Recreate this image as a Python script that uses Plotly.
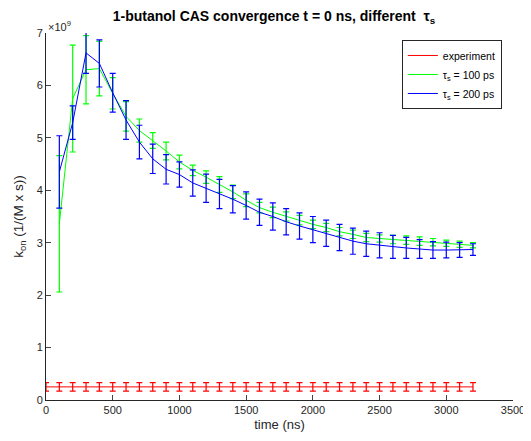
import plotly.graph_objects as go

# time points (ns)
t_exp = [0, 100, 200, 300, 400, 500, 600, 700, 800, 900, 1000, 1100, 1200, 1300, 1400, 1500,
         1600, 1700, 1800, 1900, 2000, 2100, 2200, 2300, 2400, 2500, 2600, 2700, 2800, 2900,
         3000, 3100, 3200]
t_sim = t_exp[1:]

# experiment (units of 1e9 1/(M s))
exp_val = [0.25] * len(t_exp)
exp_err = [0.08] * len(t_exp)

# tau_s = 100 ps
g_val = [3.36, 5.75, 6.30, 6.32, 5.85, 5.41, 5.14, 4.95, 4.75, 4.54, 4.38, 4.25, 4.11, 3.97,
         3.81, 3.67, 3.58, 3.50, 3.43, 3.35, 3.29, 3.21, 3.16, 3.10, 3.08, 3.06, 3.05, 3.03,
         3.01, 2.99, 2.97, 2.95]
g_err = [1.30, 1.02, 0.65, 0.52, 0.30, 0.28, 0.22, 0.15, 0.17, 0.13, 0.10, 0.12, 0.15, 0.13,
         0.12, 0.10, 0.10, 0.09, 0.09, 0.08, 0.08, 0.08, 0.08, 0.08, 0.07, 0.08, 0.08, 0.08,
         0.07, 0.06, 0.06, 0.05]

# tau_s = 200 ps
b_val = [4.35, 5.29, 6.62, 6.42, 5.86, 5.34, 4.92, 4.60, 4.40, 4.30, 4.14, 4.04, 3.93, 3.83,
         3.71, 3.58, 3.50, 3.40, 3.32, 3.25, 3.18, 3.10, 3.03, 2.98, 2.95, 2.92, 2.90, 2.88,
         2.86, 2.86, 2.86, 2.87]
b_err = [0.69, 0.32, 0.39, 0.45, 0.37, 0.37, 0.32, 0.28, 0.28, 0.24, 0.25, 0.27, 0.28, 0.26,
         0.26, 0.25, 0.26, 0.25, 0.25, 0.25, 0.25, 0.25, 0.25, 0.24, 0.24, 0.22, 0.20, 0.18,
         0.16, 0.15, 0.14, 0.11]

SCALE = 1e9
x_ticks = [0, 500, 1000, 1500, 2000, 2500, 3000, 3500]
y_ticks = [0, 1, 2, 3, 4, 5, 6, 7]

def tr(x, y, e, color, name):
    return go.Scatter(
        x=x, y=[v * SCALE for v in y], mode="lines", name=name,
        line=dict(color=color, width=1),
        error_y=dict(type="data", array=[v * SCALE for v in e], color=color,
                     thickness=1.2, width=3),
    )

fig = go.Figure()
fig.add_trace(tr(t_exp, exp_val, exp_err, "#ff0000", "experiment"))
fig.add_trace(tr(t_sim, g_val, g_err, "#00ff00", "τ<sub>s</sub> = 100 ps"))
fig.add_trace(tr(t_sim, b_val, b_err, "#0000ff", "τ<sub>s</sub> = 200 ps"))

# the page body has an 8px default margin; size the figure to fit the window
W, H = 523, 433
axcol = "#262626"
fig.update_layout(
    width=W, height=H,
    margin=dict(l=38, r=18, t=25, b=41),
    paper_bgcolor="white", plot_bgcolor="white",
    font=dict(family="Liberation Sans, Arial, sans-serif", size=11, color=axcol),
    title=dict(text="<b>1-butanol CAS convergence t = 0 ns, different  τ<sub>s</sub></b>",
               x=266 / W, xanchor="center", yref="container", y=1 - 8 / H,
               yanchor="middle", font=dict(size=14, color="black")),
    showlegend=True,
    legend=dict(x=0.762, y=0.981, xanchor="left", yanchor="top",
                bgcolor="white", bordercolor="#262626", borderwidth=1,
                font=dict(size=10.5, color="black"), tracegroupgap=0,
                itemwidth=30),
    xaxis=dict(range=[0, 3500], tickvals=x_ticks, ticks="inside", ticklen=5,
               showline=True, linecolor=axcol, linewidth=1, showgrid=False, zeroline=False,
               automargin=False,
               title=dict(text="time (ns)", standoff=4, font=dict(size=13)),
               mirror=False),
    yaxis=dict(range=[0, 7 * SCALE], tickvals=[v * SCALE for v in y_ticks],
               ticktext=[str(v) for v in y_ticks], ticks="inside", ticklen=5,
               showline=True, linecolor=axcol, linewidth=1, showgrid=False, zeroline=False,
               automargin=False,
               title=dict(text="k<sub>on</sub> (1/(M x s))", standoff=9, font=dict(size=13.5))),
)
fig.add_annotation(text="×10<sup>9</sup>", xref="paper", yref="paper", x=0.0, y=1.0,
                   xanchor="left", yanchor="bottom", showarrow=False,
                   font=dict(size=11, color=axcol), yshift=-2)

fig.write_html("out.html")
